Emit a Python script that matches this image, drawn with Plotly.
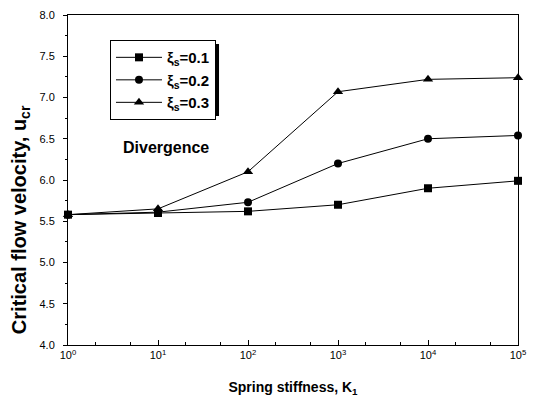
import plotly.graph_objects as go

stiffness = [1, 10, 100, 1000, 10000, 100000]
u_xi01 = [5.58, 5.60, 5.62, 5.70, 5.90, 5.99]
u_xi02 = [5.58, 5.61, 5.73, 6.20, 6.50, 6.54]
u_xi03 = [5.58, 5.65, 6.10, 7.07, 7.22, 7.24]
series_names = ["<b>ξ<sub>s</sub>=0.1</b>", "<b>ξ<sub>s</sub>=0.2</b>", "<b>ξ<sub>s</sub>=0.3</b>"]
symbols = ["square", "circle", "triangle-up"]
marker_sizes = [8, 8, 9]
x_tick_vals = [1, 10, 100, 1000, 10000, 100000]
x_tick_text = ["10<sup>0</sup>", "10<sup>1</sup>", "10<sup>2</sup>", "10<sup>3</sup>", "10<sup>4</sup>", "10<sup>5</sup>"]
y_tick_vals = [4.0, 4.5, 5.0, 5.5, 6.0, 6.5, 7.0, 7.5, 8.0]

fig = go.Figure()
for i, (name, ys, sym, ms) in enumerate(zip(series_names, [u_xi01, u_xi02, u_xi03], symbols, marker_sizes)):
    fig.add_trace(go.Scatter(
        x=stiffness, y=ys, mode="lines+markers", name=name,
        line=dict(color="black", width=1),
        marker=dict(symbol=sym, size=ms, color="black"),
        cliponaxis=False,
    ))

fig.update_layout(
    width=534, height=397,
    margin=dict(l=68, r=16, t=15, b=52, autoexpand=False),
    paper_bgcolor="white", plot_bgcolor="white",
    font=dict(family="Liberation Sans, Arial", color="black", size=11),
    showlegend=True,
    legend=dict(
        x=0.0933, y=0.924, xanchor="left", yanchor="top",
        bgcolor="white", bordercolor="black", borderwidth=1,
        font=dict(size=15, family="Liberation Sans, Arial"),
        itemwidth=46,
    ),
    xaxis=dict(
        type="log", range=[0, 5], automargin=False,
        tickvals=x_tick_vals, ticktext=x_tick_text,
        ticks="inside", ticklen=5, tickcolor="black",
        minor=dict(ticks="inside", ticklen=3, tickcolor="black", showgrid=False),
        showline=True, linecolor="black", linewidth=1, mirror=True,
        showgrid=False, zeroline=False,
        title=dict(text="<b>Spring stiffness, K<sub>1</sub></b>", font=dict(size=14), standoff=22),
    ),
    yaxis=dict(
        range=[4.0, 8.0], automargin=False,
        tickvals=y_tick_vals, tickformat=".1f",
        ticks="outside", ticklen=4, tickcolor="black", ticklabelstandoff=6,
        minor=dict(dtick=0.25, ticks="outside", ticklen=2, tickcolor="black", showgrid=False),
        showline=True, linecolor="black", linewidth=1, mirror=True,
        showgrid=False, zeroline=False,
    ),
    annotations=[
        dict(
            text="<b>Divergence</b>", xref="paper", yref="paper",
            x=0.218, y=0.6, xanchor="center", yanchor="middle",
            showarrow=False, font=dict(size=16),
        ),
        dict(
            text="<b>Critical flow velocity, u<sub>cr</sub></b>", xref="paper", yref="paper",
            x=-0.104, y=0.379, xanchor="center", yanchor="middle", textangle=-90,
            showarrow=False, font=dict(size=20),
        ),
    ],
    shapes=[dict(
        type="rect", xref="paper", yref="paper",
        x0=0.102, x1=0.3356, y0=0.694, y1=0.912,
        fillcolor="black", line=dict(width=0), layer="below",
    )],
)

fig.write_html("out.html", config={"displayModeBar": False},
               post_script="document.body.style.margin='0';")
